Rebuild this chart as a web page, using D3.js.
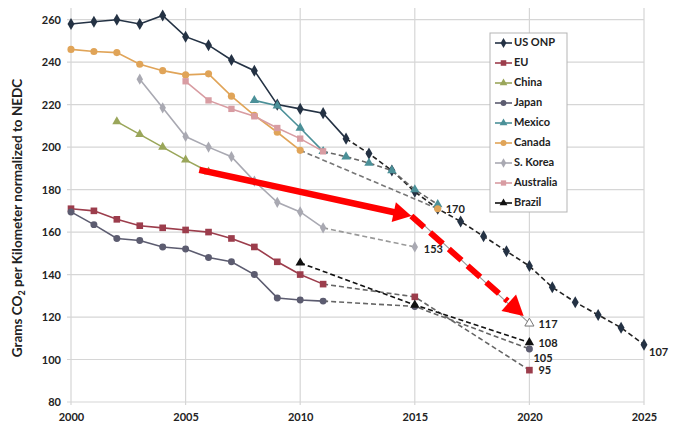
<!DOCTYPE html>
<html>
<head>
<meta charset="utf-8">
<script src="https://cdn.jsdelivr.net/npm/d3@7"></script>
<style>
  body { margin: 0; background: #fff; }
  text { font-family: Lato, "Open Sans", sans-serif; font-weight: bold; fill: #222; }
</style>
</head>
<body>
<svg id="chart" width="683" height="441"></svg>
<script>
"use strict";

// measured values (solid = reported, target = dashed projection)
const usOnp = [[2000, 258], [2001, 259], [2002, 260], [2003, 258], [2004, 262], [2005, 252], [2006, 248], [2007, 241], [2008, 236], [2009, 220], [2010, 218], [2011, 216], [2012, 204]];
const usOnpTarget = [[2012, 204], [2013, 197], [2014, 189], [2015, 179], [2016, 171], [2017, 165], [2018, 158], [2019, 151], [2020, 144], [2021, 134], [2022, 127], [2023, 121], [2024, 115], [2025, 107]];
const eu = [[2000, 171], [2001, 170], [2002, 166], [2003, 163], [2004, 162], [2005, 161], [2006, 160], [2007, 157], [2008, 153], [2009, 146], [2010, 140], [2011, 135.5]];
const euTarget = [[2011, 135.5], [2015, 129.5], [2020, 95]];
const china = [[2002, 212], [2003, 206], [2004, 200], [2005, 194], [2006, 188.4]];
const chinaTarget = [[2006, 188.4], [2015, 167.3], [2020, 117]];
const japan = [[2000, 169.5], [2001, 163.5], [2002, 157], [2003, 156], [2004, 153], [2005, 152], [2006, 148], [2007, 146], [2008, 140], [2009, 129], [2010, 128], [2011, 127.5]];
const japanTarget = [[2011, 127.5], [2015, 125], [2020, 105]];
const mexico = [[2008, 222], [2009, 219.5], [2010, 209], [2011, 198]];
const mexicoTarget = [[2011, 198], [2012, 195.5], [2013, 192.5], [2014, 189], [2015, 180], [2016, 173]];
const canada = [[2000, 246], [2001, 245], [2002, 244.5], [2003, 239], [2004, 236], [2005, 234], [2006, 234.5], [2007, 224], [2008, 215], [2009, 207], [2010, 198.5]];
const canadaTarget = [[2010, 198.5], [2016, 171]];
const sKorea = [[2003, 232], [2004, 218.5], [2005, 205], [2006, 200], [2007, 195.5], [2008, 184], [2009, 174], [2010, 169.5], [2011, 162]];
const sKoreaTarget = [[2011, 162], [2015, 153]];
const australia = [[2005, 231], [2006, 222], [2007, 218], [2008, 214.5], [2009, 209], [2010, 204], [2011, 198]];
const australiaTarget = [];
const brazil = [[2010, 145.5]];
const brazilTarget = [[2010, 145.5], [2015, 125.7], [2020, 108]];

const seriesNames = ["US ONP", "EU", "China", "Japan", "Mexico", "Canada", "S. Korea", "Australia", "Brazil"];
const targetLabels = [[2016, 171, "170"], [2015, 153, "153"], [2020, 117, "117"], [2020, 108, "108"], [2020, 105, "105"], [2020, 95, "95"], [2025, 107, "107"]];

const xTicks = [2000, 2005, 2010, 2015, 2020, 2025];
const yTicks = [80, 100, 120, 140, 160, 180, 200, 220, 240, 260];

// hand-drawn red arrow on top of the chart (year, value)
const arrowSolid = [[2005.6, 189.3], [2014.85, 167.6]];
const arrowDashed = [[2014.85, 167.6], [2019.75, 120.5]];

// style per series
const styles = {
  "US ONP":    { color: "#243244", symbol: d3.symbolDiamond, size: 42, dash: "#222" },
  "EU":        { color: "#9c3d4c", symbol: d3.symbolSquare, size: 44, dash: "#666" },
  "China":     { color: "#9aa65a", symbol: d3.symbolTriangle, size: 36, dash: "#999", endOnly: true },
  "Japan":     { color: "#5c5c70", symbol: d3.symbolCircle, size: 38, dash: "#666" },
  "Mexico":    { color: "#4b9098", symbol: d3.symbolTriangle, size: 38, dash: "#666" },
  "Canada":    { color: "#e0a458", symbol: d3.symbolCircle, size: 40, dash: "#777" },
  "S. Korea":  { color: "#a9a9b2", symbol: d3.symbolDiamond, size: 36, dash: "#999" },
  "Australia": { color: "#d89ca2", symbol: d3.symbolSquare, size: 40, dash: "#888" },
  "Brazil":    { color: "#111111", symbol: d3.symbolTriangle, size: 38, dash: "#111" }
};
const solidData = [usOnp, eu, china, japan, mexico, canada, sKorea, australia, brazil];
const targetData = [usOnpTarget, euTarget, chinaTarget, japanTarget, mexicoTarget, canadaTarget, sKoreaTarget, australiaTarget, brazilTarget];

const p = {
  left: 71, right: 644, top: 8, bottom: 402,
  yMax: 265.5
};

const svg = d3.select("#chart");

const x = d3.scaleLinear().domain([2000, 2025]).range([p.left, p.right]);
const y = d3.scaleLinear().domain([80, p.yMax]).range([p.bottom, p.top]);

// grid
svg.append("g")
  .selectAll("line")
  .data(yTicks)
  .join("line")
  .attr("x1", p.left - 4).attr("x2", p.right)
  .attr("y1", d => y(d)).attr("y2", d => y(d))
  .attr("stroke", "#d6d6d6").attr("stroke-width", 1.2);

svg.append("g")
  .selectAll("line")
  .data(xTicks)
  .join("line")
  .attr("x1", d => x(d)).attr("x2", d => x(d))
  .attr("y1", p.top).attr("y2", p.bottom + 3)
  .attr("stroke", "#d6d6d6").attr("stroke-width", 1.2);

// axes labels
const yAxis = d3.axisLeft(y).tickValues(yTicks).tickSize(0).tickPadding(10);
svg.append("g")
  .attr("transform", `translate(${p.left},0)`)
  .call(yAxis)
  .call(g => g.select(".domain").remove())
  .selectAll("text")
  .attr("font-size", 11).attr("font-family", "Lato").attr("fill", "#222");

const xAxis = d3.axisBottom(x).tickValues(xTicks).tickFormat(d3.format("d")).tickSize(0).tickPadding(11);
svg.append("g")
  .attr("transform", `translate(0,${p.bottom})`)
  .call(xAxis)
  .call(g => g.select(".domain").remove())
  .selectAll("text")
  .attr("font-size", 11).attr("font-family", "Lato").attr("fill", "#222");

// y title
const yt = svg.append("text")
  .attr("transform", `translate(22,${(p.top + p.bottom) / 2 + 13}) rotate(-90)`)
  .attr("text-anchor", "middle")
  .attr("font-size", 13.5);
yt.append("tspan").text("Grams CO");
yt.append("tspan").text("2").attr("font-size", 9).attr("dy", 3);
yt.append("tspan").text(" per Kilometer normalized to NEDC").attr("dy", -3);

const line = d3.line().x(d => x(d[0])).y(d => y(d[1]));

// dashed projections first
seriesNames.forEach((name, i) => {
  const st = styles[name];
  const t = targetData[i];
  if (t.length < 2) return;
  svg.append("path")
    .datum(t)
    .attr("d", line)
    .attr("fill", "none")
    .attr("stroke", st.dash)
    .attr("stroke-width", st.endOnly ? 1.1 : 1.6)
    .attr("stroke-dasharray", st.endOnly ? null : "5,3");
});

// solid lines
seriesNames.forEach((name, i) => {
  const st = styles[name];
  const s = solidData[i];
  if (s.length < 2) return;
  svg.append("path")
    .datum(s)
    .attr("d", line)
    .attr("fill", "none")
    .attr("stroke", st.color)
    .attr("stroke-width", 1.6);
});

// markers
seriesNames.forEach((name, i) => {
  const st = styles[name];
  const t = targetData[i];
  const pts = st.endOnly ? solidData[i].concat(t.slice(-1)) : solidData[i].concat(t.slice(1));
  svg.append("g")
    .selectAll("path")
    .data(pts)
    .join("path")
    .attr("d", d3.symbol().type(st.symbol).size(st.size))
    .attr("transform", d => `translate(${x(d[0])},${y(d[1])})`)
    .attr("fill", (d, j) => (st.endOnly && j === pts.length - 1) ? "#fff" : st.color)
    .attr("stroke", (d, j) => (st.endOnly && j === pts.length - 1) ? "#777" : "none")
    .attr("stroke-width", 1);
});

// value labels on targets
const labelOffset = { "170": [8, 1], "153": [9, 3], "117": [9, 2], "108": [9, 2], "105": [4, 10], "95": [9, 1], "107": [5, 9] };
svg.append("g")
  .selectAll("text")
  .data(targetLabels)
  .join("text")
  .attr("x", d => x(d[0]) + labelOffset[d[2]][0])
  .attr("y", d => y(d[1]) + labelOffset[d[2]][1])
  .attr("dominant-baseline", "middle")
  .attr("font-size", 11)
  .text(d => d[2]);

// red arrow
const arrowHead = (tip, from, len, half) => {
  const tx = x(tip[0]), ty = y(tip[1]);
  const fx = x(from[0]), fy = y(from[1]);
  const a = Math.atan2(ty - fy, tx - fx);
  const bx = tx - len * Math.cos(a), by = ty - len * Math.sin(a);
  const nx = -Math.sin(a) * half, ny = Math.cos(a) * half;
  return `M${tx},${ty}L${bx + nx},${by + ny}L${bx - nx},${by - ny}Z`;
};

svg.append("path")
  .datum([arrowSolid[0], [arrowSolid[1][0] - 0.7, arrowSolid[1][1] + 1.6]])
  .attr("d", line)
  .attr("stroke", "#ff0000").attr("stroke-width", 6.5).attr("fill", "none");
svg.append("path")
  .attr("d", arrowHead(arrowSolid[1], arrowSolid[0], 18, 10))
  .attr("fill", "#ff0000");

svg.append("path")
  .datum([arrowDashed[0], [arrowDashed[1][0] - 0.7, arrowDashed[1][1] + 7]])
  .attr("d", line)
  .attr("stroke", "#ff0000").attr("stroke-width", 6).attr("fill", "none")
  .attr("stroke-dasharray", "17,8");
svg.append("path")
  .attr("d", arrowHead(arrowDashed[1], arrowDashed[0], 20, 11))
  .attr("fill", "#ff0000");

// legend
const lg = svg.append("g").attr("transform", "translate(490,33)");
lg.append("rect")
  .attr("width", 77).attr("height", 179)
  .attr("fill", "#fff").attr("stroke", "#b5b5b5").attr("stroke-width", 1);
seriesNames.forEach((name, i) => {
  const st = styles[name];
  const gy = 10 + i * 20;
  lg.append("line")
    .attr("x1", 5).attr("x2", 22).attr("y1", gy).attr("y2", gy)
    .attr("stroke", st.color).attr("stroke-width", 1.6);
  lg.append("path")
    .attr("d", d3.symbol().type(st.symbol).size(st.size * 0.7))
    .attr("transform", `translate(13.5,${gy})`)
    .attr("fill", st.color);
  lg.append("text")
    .attr("x", 24).attr("y", gy)
    .attr("dominant-baseline", "middle")
    .attr("font-size", 11)
    .text(name);
});
</script>
</body>
</html>
